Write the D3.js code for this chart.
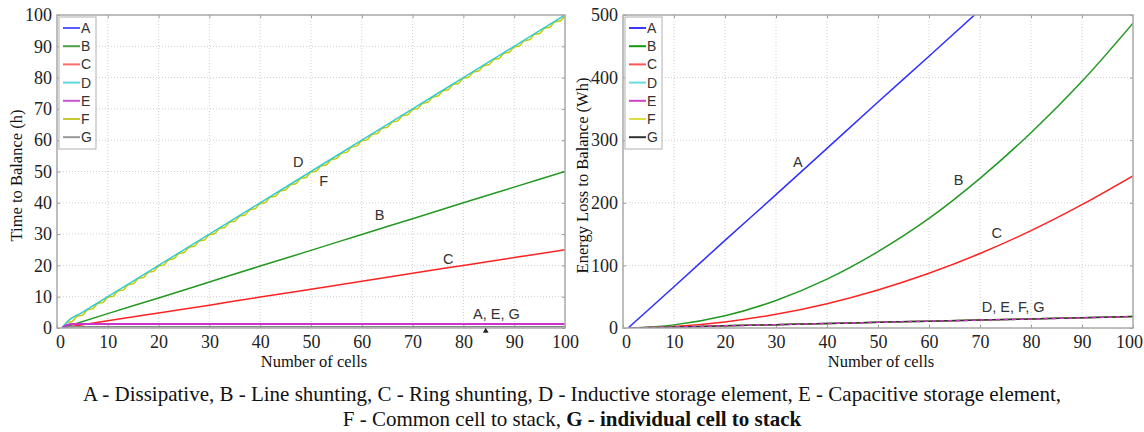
<!DOCTYPE html>
<html>
<head>
<meta charset="utf-8">
<script src="https://cdn.jsdelivr.net/npm/d3@7"></script>
<style>
  body { margin: 0; background: #fff; }
  .grid line { stroke: #cfcfcf; stroke-dasharray: 1,2; }
  .tick text { font-family: "Liberation Serif", serif; font-size: 18px; fill: #222; }
  .title { font-family: "Liberation Serif", serif; font-size: 16.5px; fill: #111; }
  .note { font-family: "Liberation Sans", Arial, sans-serif; font-size: 14.5px; fill: #333; }
  .leg { font-family: "Liberation Sans", Arial, sans-serif; font-size: 14px; fill: #333; }
  .cap { font-family: "Liberation Serif", serif; font-size: 21px; fill: #111; }
</style>
</head>
<body>
<svg width="1144" height="432"></svg>
<script>
var svg = d3.select("svg");

// cells sampled every 10
var cells = [1, 10, 20, 30, 40, 50, 60, 70, 80, 90, 100];

// time to balance (h)
var timeB = [0, 4.6, 9.6, 14.7, 19.8, 24.8, 29.9, 34.9, 40, 45, 50];
var timeC = [0, 2.3, 4.8, 7.3, 9.9, 12.4, 14.9, 17.5, 20, 22.5, 25];
var cellsD = [1, 2, 5, 10, 20, 30, 40, 50, 60, 70, 80, 90, 100];
var timeD = [0, 2, 5, 10, 20, 30, 40, 50, 60, 70, 80, 90, 100];
var timeF = [0, 1.8, 2.1, 3.8, 4.1, 5.8, 6.1, 7.8, 8.1, 9.8, 10.1, 11.8, 12.1, 13.8, 14.1, 15.8, 16.1, 17.8, 18.1, 19.8,
  20.1, 21.8, 22.1, 23.8, 24.1, 25.8, 26.1, 27.8, 28.1, 29.8, 30.1, 31.8, 32.1, 33.8, 34.1, 35.8, 36.1, 37.8, 38.1, 39.8,
  40.1, 41.8, 42.1, 43.8, 44.1, 45.8, 46.1, 47.8, 48.1, 49.8, 50.1, 51.8, 52.1, 53.8, 54.1, 55.8, 56.1, 57.8, 58.1, 59.8,
  60.1, 61.8, 62.1, 63.8, 64.1, 65.8, 66.1, 67.8, 68.1, 69.8, 70.1, 71.8, 72.1, 73.8, 74.1, 75.8, 76.1, 77.8, 78.1, 79.8,
  80.1, 81.8, 82.1, 83.8, 84.1, 85.8, 86.1, 87.8, 88.1, 89.8, 90.1, 91.8, 92.1, 93.8, 94.1, 95.8, 96.1, 97.8, 98.1, 99.7];
var cellsFlat = [1, 2, 3, 4, 6, 100];
var timeA = [0, 0.9, 1.2, 1.3, 1.35, 1.35];
var timeE = [0, 1.0, 1.3, 1.3, 1.3, 1.3];
var timeG = [0, 0.4, 0.4, 0.4, 0.4, 0.4];

// energy loss to balance (Wh)
var cellsLossA = [1, 10, 20, 30, 40, 50, 60, 70];
var lossA = [0, 66, 140, 213, 287, 361, 434, 508];
var lossB = [0, 5, 19.5, 44, 78, 122, 175, 239, 312, 394, 487];
var lossC = [0, 2.4, 9.7, 21.9, 38.9, 60.8, 87.5, 119, 155.5, 197, 243];
var lossDEFG = [0, 1.6, 3.5, 5.3, 7.1, 9, 10.8, 12.6, 14.4, 16.2, 18.2];

var names = ["A", "B", "C", "D", "E", "F", "G"];
var lineColor = { A: "#3030ff", B: "#229922", C: "#ff2222", D: "#33cccc", E: "#cc33cc", F: "#c8c800", G: "#888888" };
var legColorL = { A: "#5a5aff", B: "#4aa04a", C: "#ff6a6a", D: "#5cd8d8", E: "#cc55cc", F: "#c8c832", G: "#999999" };
var legColorR = { A: "#3a3aff", B: "#119911", C: "#ff5555", D: "#66dddd", E: "#cc44cc", F: "#dddd44", G: "#333333" };

var xTime = d3.scaleLinear().domain([0, 100]).range([57, 565]);
var yTime = d3.scaleLinear().domain([0, 100]).range([328, 15]);
var xLoss = d3.scaleLinear().domain([0, 100]).range([623, 1133]);
var yLoss = d3.scaleLinear().domain([0, 500]).range([328, 15]);

function zip(xs, ys) { return xs.map(function(x, i) { return [x, ys[i]]; }); }

function panel(id, x, y, yTicks, yTitle, series, legColor, notes) {
  var g = svg.append("g");
  var x0 = x.range()[0], x1 = x.range()[1], y0 = y.range()[0], y1 = y.range()[1];

  g.append("clipPath").attr("id", id)
    .append("rect").attr("x", x0).attr("y", y1).attr("width", x1 - x0).attr("height", y0 - y1);

  // grid
  var grid = g.append("g").attr("class", "grid");
  grid.selectAll("line.v").data(d3.range(10, 100, 10)).enter().append("line")
    .attr("x1", function(d) { return x(d); }).attr("x2", function(d) { return x(d); })
    .attr("y1", y0).attr("y2", y1);
  grid.selectAll("line.h").data(yTicks.slice(1, -1)).enter().append("line")
    .attr("y1", function(d) { return y(d); }).attr("y2", function(d) { return y(d); })
    .attr("x1", x0).attr("x2", x1);

  // axes (tick labels only, inner tick marks)
  var bottom = g.append("g").attr("transform", "translate(0," + y0 + ")")
    .call(d3.axisBottom(x).tickValues(d3.range(0, 101, 10)).tickSize(-3).tickPadding(7))
    .call(function(a) { a.select(".domain").remove(); a.selectAll("line").attr("stroke", "#999"); });
  // first label sits a little right of the frame, last one kept inside the page
  bottom.selectAll(".tick text").filter(function(d) { return d === 0; }).attr("dx", 3);
  bottom.selectAll(".tick text").filter(function(d) { return d === 100; }).attr("dx", x1 > 1000 ? -4 : 0);
  g.append("g").attr("transform", "translate(0," + y1 + ")")
    .call(d3.axisTop(x).tickValues(d3.range(10, 100, 10)).tickSize(-3).tickFormat(""))
    .call(function(a) { a.select(".domain").remove(); a.selectAll("line").attr("stroke", "#999"); });
  g.append("g").attr("transform", "translate(" + x0 + ",0)")
    .call(d3.axisLeft(y).tickValues(yTicks).tickSize(-3).tickPadding(5))
    .call(function(a) { a.select(".domain").remove(); a.selectAll("line").attr("stroke", "#999"); });
  g.append("g").attr("transform", "translate(" + x1 + ",0)")
    .call(d3.axisRight(y).tickValues(yTicks).tickSize(-3).tickFormat(""))
    .call(function(a) { a.select(".domain").remove(); a.selectAll("line").attr("stroke", "#999"); });

  // lines
  var line = d3.line().x(function(d) { return x(d[0]); }).y(function(d) { return y(d[1]); })
    .curve(d3.curveMonotoneX);
  g.append("g").attr("clip-path", "url(#" + id + ")")
    .selectAll("path").data(series).enter().append("path")
      .attr("fill", "none")
      .attr("stroke", function(d) { return d.color; })
      .attr("stroke-width", function(d) { return d.width || 1.5; })
      .attr("stroke-dasharray", function(d) { return d.dash || null; })
      .attr("d", function(d) { return line(d.pts); });

  // frame
  g.append("rect").attr("x", x0).attr("y", y1).attr("width", x1 - x0).attr("height", y0 - y1)
    .attr("fill", "none").attr("stroke", "#a8a8a8").attr("stroke-width", 1.5);

  // titles
  g.append("text").attr("class", "title").attr("text-anchor", "middle")
    .attr("x", (x0 + x1) / 2 + 3).attr("y", 367).text("Number of cells");
  g.append("text").attr("class", "title").attr("text-anchor", "middle")
    .attr("transform", "translate(" + (x0 - 35) + "," + ((y0 + y1) / 2 + 4) + ") rotate(-90)")
    .text(yTitle);

  // legend
  var lg = g.append("g").attr("transform", "translate(" + (x0 + 2) + "," + (y1 + 2) + ")");
  lg.append("rect").attr("width", 37).attr("height", 132)
    .attr("fill", "#fff").attr("stroke", "#b0b0b0");
  var items = lg.selectAll("g").data(names).enter().append("g")
    .attr("transform", function(d, i) { return "translate(0," + (11 + i * 18.2) + ")"; });
  items.append("line").attr("x1", 4).attr("x2", 21)
    .attr("stroke", function(d) { return legColor[d]; }).attr("stroke-width", 2);
  items.append("text").attr("class", "leg").attr("x", 22).attr("y", 5).text(function(d) { return d; });

  // annotations
  g.selectAll("text.note").data(notes).enter().append("text")
    .attr("class", "note").attr("text-anchor", "middle")
    .attr("x", function(d) { return x(d.at[0]); })
    .attr("y", function(d) { return y(d.at[1]); })
    .text(function(d) { return d.label; });
  return g;
}

var timeSeries = [
  { color: lineColor.B, pts: zip(cells, timeB) },
  { color: lineColor.C, pts: zip(cells, timeC) },
  { color: lineColor.F, pts: zip(d3.range(1, 101), timeF) },
  { color: lineColor.D, pts: zip(cellsD, timeD) },
  { color: lineColor.G, pts: zip(cellsFlat, timeG) },
  { color: lineColor.A, pts: zip(cellsFlat, timeA) },
  { color: lineColor.E, pts: zip(cellsFlat, timeE), width: 2 }
];

var lossSeries = [
  { color: lineColor.A, pts: zip(cellsLossA, lossA) },
  { color: lineColor.B, pts: zip(cells, lossB) },
  { color: lineColor.C, pts: zip(cells, lossC) },
  { color: lineColor.D, pts: zip(cells, lossDEFG) },
  { color: lineColor.F, pts: zip(cells, lossDEFG) },
  { color: "#333333", pts: zip(cells, lossDEFG) },
  { color: lineColor.E, pts: zip(cells, lossDEFG), dash: "4,4" }
];

var left = panel("clipTime", xTime, yTime, d3.range(0, 101, 10), "Time to Balance (h)", timeSeries, legColorL, [
  { label: "D", at: [47.5, 51.5] },
  { label: "F", at: [52.5, 45.5] },
  { label: "B", at: [63.5, 34.5] },
  { label: "C", at: [77, 20.5] },
  { label: "A, E, G", at: [86.5, 3] }
]);

// small pointer under the "A, E, G" label
left.append("path")
  .attr("d", d3.symbol().type(d3.symbolTriangle).size(14))
  .attr("transform", "translate(" + xTime(84.4) + "," + (yTime(0) + 3) + ")")
  .attr("fill", "#222");

panel("clipLoss", xLoss, yLoss, d3.range(0, 501, 100), "Energy Loss to Balance (Wh)", lossSeries, legColorR, [
  { label: "A", at: [34.3, 257] },
  { label: "B", at: [65.8, 228] },
  { label: "C", at: [73.3, 144] },
  { label: "D, E, F, G", at: [76.5, 26] }
]);

// caption
var cap = svg.append("text").attr("class", "cap").attr("text-anchor", "middle").attr("x", 572);
cap.append("tspan").attr("x", 572).attr("y", 401)
  .text("A - Dissipative, B - Line shunting, C - Ring shunting, D - Inductive storage element, E - Capacitive storage element,");
var line2 = cap.append("tspan").attr("x", 572).attr("y", 426);
line2.append("tspan").text("F - Common cell to stack, ");
line2.append("tspan").attr("font-weight", "bold").text("G - individual cell to stack");
</script>
</body>
</html>
